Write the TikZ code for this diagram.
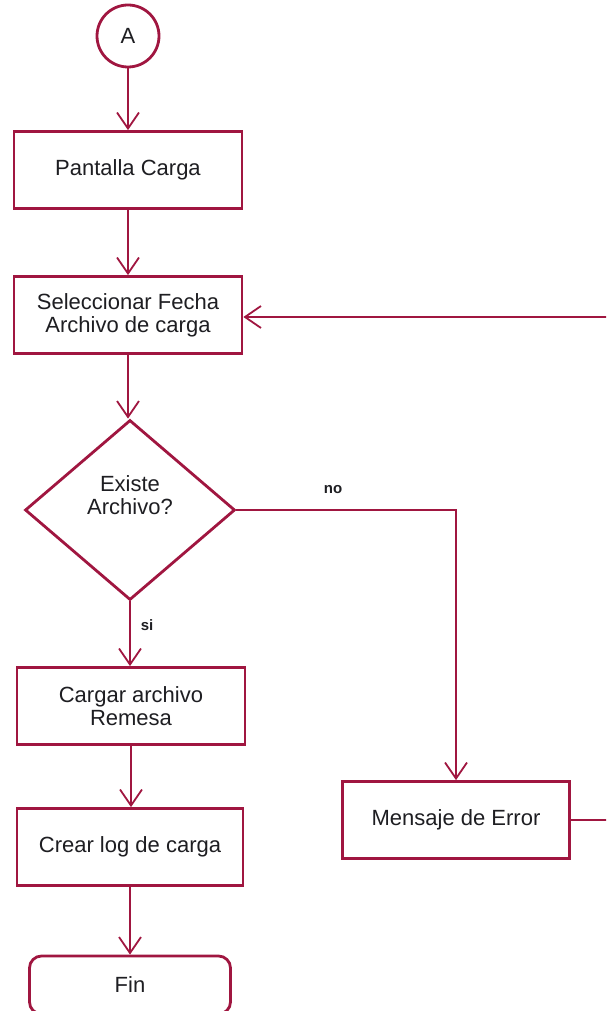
\documentclass[tikz,border=0pt]{standalone}
\usepackage{fontspec}
\setmainfont{Liberation Sans}
\usetikzlibrary{shapes.geometric,arrows.meta}
\definecolor{flowline}{RGB}{160,22,64}
\definecolor{flowtext}{RGB}{30,30,34}
\tikzset{
  stepbox/.style={draw=flowline, line width=2.8pt, fill=white, rectangle,
    minimum width=228pt, minimum height=77pt, inner sep=0pt, align=center,
    text=flowtext, font=\fontsize{22}{23}\selectfont},
  termbox/.style={stepbox, rounded corners=12pt, minimum width=201pt, minimum height=58pt},
  connector/.style={draw=flowline, circle, line width=2.8pt, minimum size=62pt,
    inner sep=0pt, text=flowtext, font=\fontsize{22}{23}\selectfont},
  decision/.style={draw=flowline, diamond, line width=2.8pt, minimum width=210pt,
    minimum height=180pt, inner sep=0pt},
  txt/.style={align=center, text=flowtext, font=\fontsize{22}{23}\selectfont, inner sep=0pt},
  branch/.style={text=flowtext, font=\fontsize{15}{17}\selectfont\bfseries, inner sep=0pt},
  flow/.style={draw=flowline, line width=1.8pt,
    -{Straight Barb[length=16pt, width=22pt, line width=1.8pt]}},
  plain/.style={draw=flowline, line width=1.8pt}
}
\begin{document}
\begin{tikzpicture}[x=1pt, y=-1pt]
  \useasboundingbox (0,0) rectangle (606,1011);
  \clip (0,0) rectangle (606,1011);

  % nodes of the flow
  \node[connector] (A) at (128,36) {A};
  \node[stepbox] (pant) at (128,170) {Pantalla Carga};
  \node[stepbox] (sel) at (128,315) {Seleccionar Fecha\\Archivo de carga};
  \node[decision] (dec) at (130,510) {};
  \node[txt] at ([yshift=15pt]dec.center) {Existe\\Archivo?};
  \node[stepbox] (carg) at (131,706) {Cargar archivo\\Remesa};
  \node[stepbox, minimum width=226pt] (crear) at (130,847) {Crear log de carga};
  \node[termbox] (fin) at (130,985) {Fin};
  \node[stepbox, minimum width=227pt] (err) at (456,820) {Mensaje de Error};
  \coordinate (back) at (640,317);

  % connectors
  \draw[flow] (A.south) -- (A.south |- pant.north);
  \draw[flow] (pant.south) -- (pant.south |- sel.north);
  \draw[flow] (sel.south) -- (sel.south |- dec.north);
  \draw[flow] (dec.south) -- node[pos=0.37, right=10pt, branch] {si} (dec.south |- carg.north);
  \draw[flow] (carg.south) -- (carg.south |- crear.north);
  \draw[flow] (crear.south) -- (crear.south |- fin.north);
  \draw[flow] (dec.east) -| node[pos=0.22, above=15pt, branch] {no} (err.north);
  \draw[plain] (err.east) -| (back);
  \draw[flow] (back) -- (back -| sel.east);
\end{tikzpicture}
\end{document}
